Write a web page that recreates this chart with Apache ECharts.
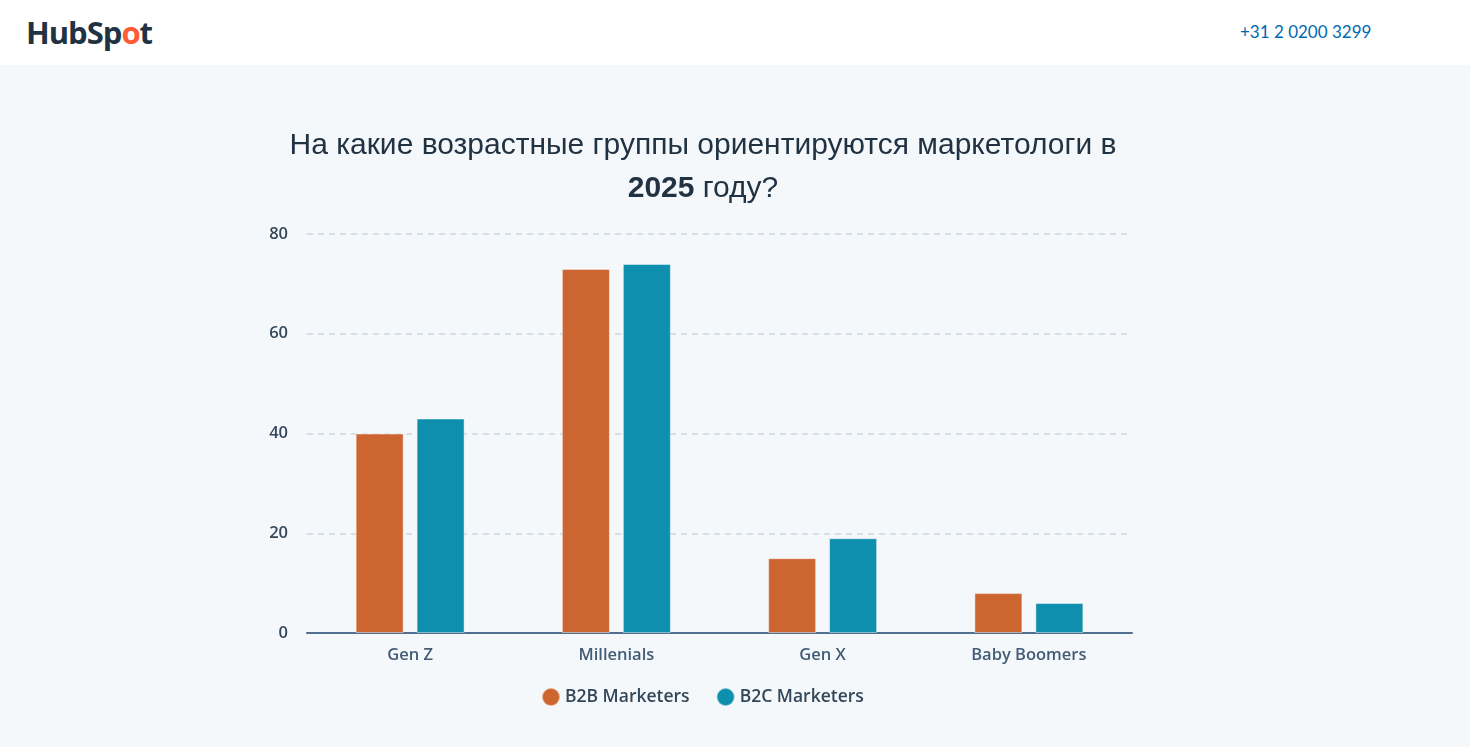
<!DOCTYPE html>
<html>
<head>
<meta charset="utf-8">
<script src="https://cdn.jsdelivr.net/npm/echarts@6/dist/echarts.min.js"></script>
<style>
  html, body { margin: 0; padding: 0; width: 1470px; height: 747px; overflow: hidden; background: #F5F8FA; }
  #header { position: absolute; left: 0; top: 0; width: 1470px; height: 65px; background: #ffffff; }
  #logo { position: absolute; left: 26px; top: 11px; font-family: "Open Sans", sans-serif; font-weight: 700; font-size: 31px; color: #213343; letter-spacing: -1px; }
  #logo .o { color: #FF5C35; }
  #phone { position: absolute; left: 1240px; top: 21px; font-family: "Lato", sans-serif; font-size: 17px; color: #0068B1; }
  #chart { position: absolute; left: 0; top: 65px; width: 1470px; height: 682px; }
</style>
</head>
<body>
<div id="header">
  <div id="logo">HubSp<span class="o">o</span>t</div>
  <div id="phone">+31 2 0200 3299</div>
</div>
<div id="chart"></div>
<script>
const categories = ['Gen Z', 'Millenials', 'Gen X', 'Baby Boomers'];
const seriesNames = ['B2B Marketers', 'B2C Marketers'];
const b2bValues = [40, 73, 15, 8];
const b2cValues = [43, 74, 19, 6];
const yTicks = [0, 20, 40, 60, 80];

const chart = echarts.init(document.getElementById('chart'));
const labelFont = '"Open Sans", sans-serif';
chart.setOption({
  backgroundColor: '#F5F8FA',
  animation: false,
  title: {
    text: 'На какие возрастные группы ориентируются маркетологи в\n{b|2025} году?',
    left: 698,
    top: 54,
    textAlign: 'center',
    textStyle: {
      fontFamily: '"Liberation Sans", Arial, sans-serif',
      fontSize: 30,
      fontWeight: 'normal',
      color: '#213343',
      lineHeight: 43,
      rich: {
        b: { fontFamily: '"Liberation Sans", Arial, sans-serif', fontSize: 30, fontWeight: 'bold', color: '#213343', lineHeight: 43 }
      }
    }
  },
  legend: {
    data: seriesNames,
    top: 617,
    left: 536,
    icon: 'circle',
    itemWidth: 18,
    itemHeight: 18,
    itemGap: 26,
    textStyle: { fontFamily: labelFont, fontWeight: 600, fontSize: 17.5, color: '#33475B' }
  },
  grid: { left: 307, right: 338, top: 169, bottom: 114, containLabel: false },
  xAxis: {
    type: 'category',
    data: categories,
    axisTick: { show: false },
    axisLine: { lineStyle: { color: '#516F90', width: 2 } },
    axisLabel: { margin: 14, fontFamily: labelFont, fontWeight: 600, fontSize: 16.5, color: '#425B76' }
  },
  yAxis: {
    type: 'value',
    min: yTicks[0],
    max: yTicks[yTicks.length - 1],
    interval: 20,
    axisLine: { show: false },
    axisTick: { show: false },
    axisLabel: { margin: 19, fontFamily: labelFont, fontWeight: 600, fontSize: 16.5, color: '#33475B' },
    splitLine: { lineStyle: { color: '#CBD6E2', type: [6, 5], width: 1.5 } }
  },
  series: [
    {
      name: seriesNames[0], type: 'bar', data: b2bValues,
      barWidth: 48, barGap: '27%',
      itemStyle: { color: '#CC652F', borderColor: 'rgba(255,255,255,0.45)', borderWidth: 1 }
    },
    {
      name: seriesNames[1], type: 'bar', data: b2cValues,
      barWidth: 48, barGap: '27%',
      itemStyle: { color: '#0D8FAD', borderColor: 'rgba(255,255,255,0.45)', borderWidth: 1 }
    }
  ]
});
</script>
</body>
</html>
